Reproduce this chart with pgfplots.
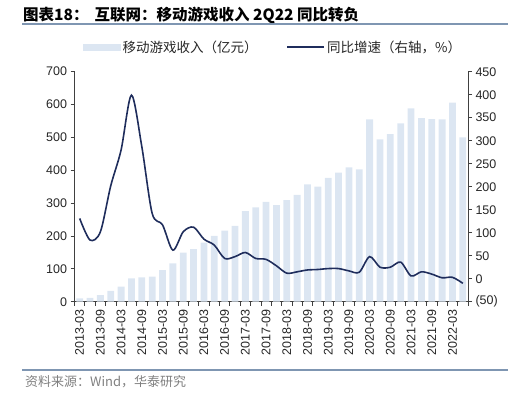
\documentclass[border=0pt]{standalone}
\usepackage{fontspec}
\setmainfont{Liberation Sans}
\newfontfamily\cjk{Noto Sans CJK SC}
\usepackage{pgfplots}
\pgfplotsset{compat=1.18}
\definecolor{barblue}{HTML}{DCE6F2}
\definecolor{navy}{HTML}{1F2D5C}
\definecolor{rulec}{HTML}{7F96B2}
\definecolor{axisc}{HTML}{404040}
\definecolor{txtc}{HTML}{262626}
\begin{document}
\begin{tikzpicture}[x=1pt,y=1pt]
\useasboundingbox (0,0) rectangle (510,395);
% title and rules
\node[anchor=west,inner sep=0pt,font=\cjk\bfseries\fontsize{15.5}{17}\selectfont] at (23,380) {图表18：\hspace{6pt}互联网：移动游戏收入 2Q22 同比转负};
\draw[rulec,line width=1.1pt] (22,371) -- (508,371);
\draw[rulec,line width=1.1pt] (22,25) -- (508,25);
\node[anchor=west,inner sep=0pt,text=gray,font=\cjk\fontsize{13}{15}\selectfont] at (25,13) {资料来源：Wind，华泰研究};

\begin{axis}[
  at={(74.5pt,93.3pt)}, anchor=south west,
  scale only axis, width=393.5pt, height=230pt,
  xmin=-0.5, xmax=37.5, ymin=0, ymax=700,
  axis y line*=left, axis x line*=bottom,
  axis line style={axisc, line width=0.8pt},
  ytick={0,100,...,700},
  xtick={0,2,...,36},
  xticklabels={2013-03,2013-09,2014-03,2014-09,2015-03,2015-09,2016-03,2016-09,2017-03,2017-09,2018-03,2018-09,2019-03,2019-09,2020-03,2020-09,2021-03,2021-09,2022-03},
  minor xtick={-0.5,0.5,...,37.5},
  major x tick style={draw=none},
  minor tick length=4pt,
  major tick length=4pt,
  tick align=outside,
  tick style={axisc, line width=0.8pt},
  x tick label style={rotate=90, anchor=east, font=\fontsize{12.5}{14}\selectfont, text=txtc, xshift=0pt},
  y tick label style={font=\fontsize{12.5}{14}\selectfont, text=txtc},
  /pgf/number format/assume math mode=true,
  ybar, bar width=6.8pt,
  clip=false,
]
\addplot[fill=barblue, draw=none] coordinates {
(0,10) (1,12) (2,20) (3,33) (4,46) (5,71) (6,74) (7,76) (8,96) (9,117)
(10,149) (11,160) (12,180) (13,200) (14,216) (15,231) (16,276) (17,287) (18,304) (19,294)
(20,309) (21,325) (22,357) (23,350) (24,377) (25,393) (26,409) (27,403) (28,555) (29,494)
(30,510) (31,543) (32,588) (33,559) (34,556) (35,555) (36,606) (37,500)
};
\end{axis}

\begin{axis}[
  at={(74.5pt,93.3pt)}, anchor=south west,
  scale only axis, width=393.5pt, height=230pt,
  xmin=-0.5, xmax=37.5, ymin=-50, ymax=450,
  axis y line*=right, axis x line=none,
  axis line style={axisc, line width=0.8pt},
  ytick={-50,0,50,...,450},
  yticklabels={(50),0,50,100,150,200,250,300,350,400,450},
  major tick length=4pt,
  tick align=outside,
  tick style={axisc, line width=0.8pt},
  y tick label style={font=\fontsize{12.5}{14}\selectfont, text=txtc},
  /pgf/number format/assume math mode=true,
  legend style={at={(0.0216,1.107)}, anchor=west, draw=none, fill=none, inner sep=0pt,
    font=\cjk\fontsize{13.5}{15}\selectfont, text=txtc,
    /tikz/every even column/.append style={column sep=27pt}},
  legend columns=2,
  legend cell align=left,
]
\addlegendimage{legend image code/.code={\fill[barblue] (0pt,-3pt) rectangle (37pt,3pt);}}
\addlegendentry{移动游戏收入（亿元）}
\addlegendimage{legend image code/.code={\draw[navy,line width=1.6pt] (0pt,0pt) -- (37pt,0pt);}}
\addlegendentry{同比增速（右轴，\%）}
\addplot[navy, line width=1.6pt, smooth, forget plot] coordinates {
(0,131) (1,84) (2,102) (3,202) (4,280) (5,399) (6,287) (7,142) (8,117) (9,62)
(10,102) (11,112) (12,86) (13,73) (14,44) (15,48) (16,57) (17,44) (18,42) (19,28)
(20,12) (21,15) (22,19) (23,20) (24,22) (25,22) (26,17) (27,14) (28,48) (29,25)
(30,25) (31,36) (32,6) (33,15) (34,10) (35,2) (36,3) (37,-10)
};
\end{axis}
\end{tikzpicture}
\end{document}
